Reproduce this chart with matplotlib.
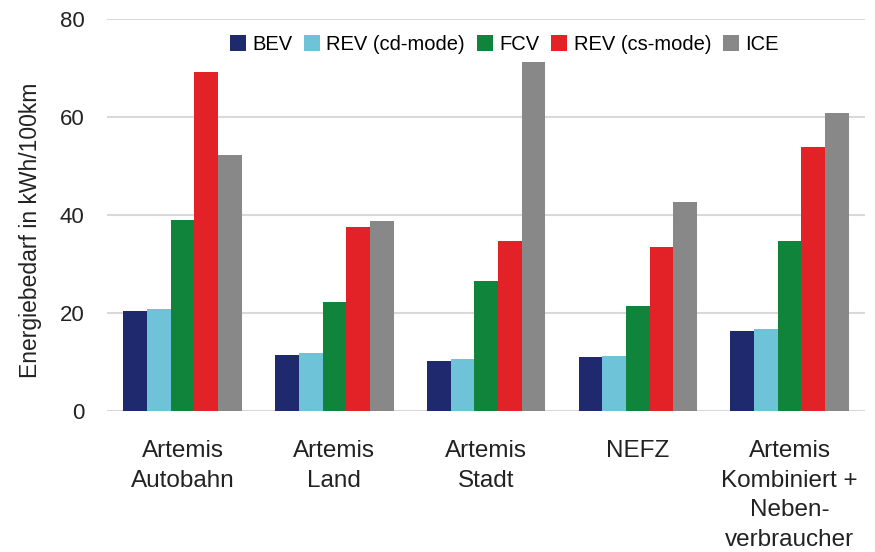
import matplotlib
matplotlib.use("Agg")
import matplotlib.pyplot as plt
import numpy as np

plt.rcParams['font.family'] = ['Liberation Sans', 'DejaVu Sans']

categories = ["Artemis\nAutobahn", "Artemis\nLand", "Artemis\nStadt", "NEFZ",
              "Artemis\nKombiniert +\nNeben-\nverbraucher"]
series_names = ["BEV", "REV (cd-mode)", "FCV", "REV (cs-mode)", "ICE"]
bev = [20.5, 11.4, 10.2, 11.0, 16.3]
rev_cd = [20.8, 11.8, 10.6, 11.2, 16.7]
fcv = [38.9, 22.3, 26.5, 21.4, 34.6]
rev_cs = [69.2, 37.6, 34.7, 33.4, 53.9]
ice = [52.2, 38.8, 71.2, 42.7, 60.8]
yticks = [0, 20, 40, 60, 80]
colors = ["#1f2a6e", "#6fc3d9", "#0f843a", "#e22226", "#888888"]

data = [bev, rev_cd, fcv, rev_cs, ice]

fig = plt.figure(figsize=(8.75, 5.52), dpi=100)
ax = fig.add_axes([0.122, 0.2554, 0.867, 0.7102])

x = np.arange(len(categories))
w = 0.156
for i, (vals, name, c) in enumerate(zip(data, series_names, colors)):
    ax.bar(x + (i - 2) * w, vals, width=w, color=c, label=name, zorder=3)

ax.set_xlim(-0.5, len(categories) - 0.5)
ax.set_ylim(0, 80)
ax.set_yticks(yticks)
ax.set_yticklabels([str(t) for t in yticks], fontsize=16)
ax.set_xticks(x)
ax.set_xticklabels(categories, fontsize=17.5, linespacing=1.45)
ax.tick_params(axis='both', length=0, colors='#222222')
ax.tick_params(axis='y', pad=16)
ax.tick_params(axis='x', pad=21)
for s in ax.spines.values():
    s.set_visible(False)
ax.grid(axis='y', color='#d9d9d9', linewidth=1.5, zorder=0)
ax.set_axisbelow(True)
ax.set_ylabel("Energiebedarf in kWh/100km", fontsize=16.5, color='#222222')
ax.yaxis.set_label_coords(-0.122 + 28 / 758.6, 1 - (230 - 19) / 392)

leg = ax.legend(loc='upper center', bbox_to_anchor=(0.524, 0.98), ncol=5, frameon=False,
                fontsize=14.5, handlelength=0.8, handleheight=0.8, handletextpad=0.3,
                columnspacing=0.6, borderaxespad=0)

fig.savefig("out.png", dpi=100)
